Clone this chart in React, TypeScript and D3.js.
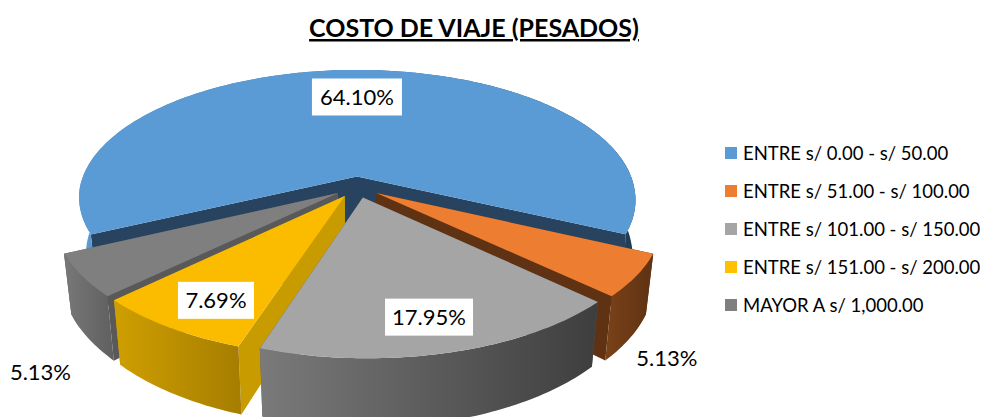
import React from "react";
import * as d3 from "d3";

const title = "COSTO DE VIAJE (PESADOS)";
const categories = [
  "ENTRE s/ 0.00 - s/ 50.00",
  "ENTRE s/ 51.00 - s/ 100.00",
  "ENTRE s/ 101.00 - s/ 150.00",
  "ENTRE s/ 151.00 - s/ 200.00",
  "MAYOR A s/ 1,000.00",
];
const values = [64.1, 5.13, 17.95, 7.69, 5.13];
const topColors = ["#5b9bd5", "#ed7d31", "#a5a5a5", "#fbbc00", "#7f7f7f"];
const legendColors = ["#5b9bd5", "#ed7d31", "#a5a5a5", "#ffc000", "#7f7f7f"];
const innerWallColors = ["#27435f", "#5e3213", "#5a5a5a", "#c89b00", "#595959"];
const wallStart = ["#5b9bd5", "#7a4218", "#7a7a7a", "#cf9f00", "#787878"];
const wallEnd = ["#1f3d55", "#5e3213", "#3e3e3e", "#a67d00", "#5f5f5f"];

const W = 984, H = 417;
const CX = 357, CY = 187, R = 278, EXPLODE = 23, PERSP = 1589, KD = 735, DEPTH = 56, BOTTOM_SHRINK = 0.975, SKEW = 0.012;
const FONT = "Lato, 'Open Sans', sans-serif";
const deg = Math.PI / 180;

type P = [number, number];
// world: X right, Y toward viewer
const project = (X: number, Y: number, low = false, shrink = BOTTOM_SHRINK): P => {
  const s = PERSP / (PERSP - Y);
  const x = X * s;
  const y = (KD * Y) / (PERSP - Y);
  const skew = SKEW * Math.max(Y, 0);
  return low ? [CX + x * shrink + skew, CY + y + DEPTH * s] : [CX + x + skew, CY + y];
};

const arcs = d3.pie<number>().sort(null).startAngle(-115.4 * deg).endAngle((360 - 115.4) * deg)(values);
const line = d3.line<P>();
const rScale = d3.scaleLinear().domain([0, 1]).range([0, R]);

const world = (i: number, a: number, f: number): P => {
  const m = (arcs[i].startAngle + arcs[i].endAngle) / 2;
  return [EXPLODE * Math.sin(m) + rScale(f) * Math.sin(a), -EXPLODE * Math.cos(m) - rScale(f) * Math.cos(a)];
};
const pt = (i: number, a: number, f: number, low = false) => {
  const [X, Y] = world(i, a, f);
  // the big back slice keeps a nearly vertical outer wall on its right side
  const shrink = i === 0 && X > 0 ? 0.99 : BOTTOM_SHRINK;
  return project(X, Y, low, shrink);
};
const rim = (i: number, low = false): P[] => {
  const { startAngle: a0, endAngle: a1 } = arcs[i];
  const n = Math.ceil((a1 - a0) / (1 * deg));
  return d3.range(n + 1).map((k) => pt(i, a0 + ((a1 - a0) * k) / n, 1, low));
};
const midAngle = (i: number) => (arcs[i].startAngle + arcs[i].endAngle) / 2;

const drawOrder = [0, 4, 1, 3, 2];
const labelFractions = [0.72, 0, 0.8, 0.8, 0];
const labelTurn = [0, 0, 0, -2, 0];
const boxW = [90, 0, 88, 76, 0];
const outsideOffsets: Record<number, P> = { 1: [37, 19], 4: [-48, 33] };
const fmt = (v: number) => v.toFixed(2) + "%";

export default function App() {
  return (
    <svg width={W} height={H} viewBox={`0 0 ${W} ${H}`} style={{ position: "absolute", left: 0, top: 0, background: "#fff" }}>
      <defs>
        {arcs.map((_, i) => {
          const xs = [...rim(i), ...rim(i, true)].map((p) => p[0]);
          return (
            <linearGradient key={i} id={`w${i}`} gradientUnits="userSpaceOnUse" x1={d3.min(xs)} x2={d3.max(xs)} y1={0} y2={0}>
              <stop offset="0" stopColor={wallStart[i]} />
              <stop offset="1" stopColor={wallEnd[i]} />
            </linearGradient>
          );
        })}
      </defs>
      {drawOrder.map((i) => {
        const { startAngle: a0, endAngle: a1 } = arcs[i];
        const top = rim(i);
        const low = rim(i, true);
        const wall = (a: number): P[] => [pt(i, a, 0), pt(i, a, 0, true), pt(i, a, 1, true), pt(i, a, 1)];
        return (
          <g key={i}>
            <path d={line(wall(a0))! + "Z"} fill={innerWallColors[i]} />
            <path d={line(wall(a1))! + "Z"} fill={innerWallColors[i]} />
            <path d={line([...top, ...low.slice().reverse()])! + "Z"} fill={`url(#w${i})`} />
            <path d={line([pt(i, a0, 0), ...top])! + "Z"} fill={topColors[i]} />
          </g>
        );
      })}
      <text x={474} y={37} textAnchor="middle" fontFamily={FONT} fontWeight={700} fontSize={25} textDecoration="underline" fill="#000">
        {title}
      </text>
      {arcs.map((_, i) => {
        if (!labelFractions[i]) {
          const [bx, by] = pt(i, midAngle(i), 1, true);
          const [dx, dy] = outsideOffsets[i];
          return (
            <text key={i} x={bx + dx} y={by + dy} textAnchor="middle" dominantBaseline="central" fontFamily={FONT} fontSize={22} fill="#000">
              {fmt(values[i])}
            </text>
          );
        }
        const [x, y] = pt(i, midAngle(i) + labelTurn[i] * deg, labelFractions[i]);
        return (
          <g key={i}>
            <rect x={x - boxW[i] / 2} y={y - 18} width={boxW[i]} height={37} fill="#fff" />
            <text x={x} y={y} textAnchor="middle" dominantBaseline="central" fontFamily={FONT} fontSize={22} fill="#000">
              {fmt(values[i])}
            </text>
          </g>
        );
      })}
      {categories.map((c, i) => {
        const y = 153 + i * 38;
        return (
          <g key={c}>
            <rect x={725} y={y - 6} width={12} height={12} fill={legendColors[i]} />
            <text x={743} y={y} dominantBaseline="central" fontFamily={FONT} fontSize={18.5} fill="#000">
              {c}
            </text>
          </g>
        );
      })}
    </svg>
  );
}
